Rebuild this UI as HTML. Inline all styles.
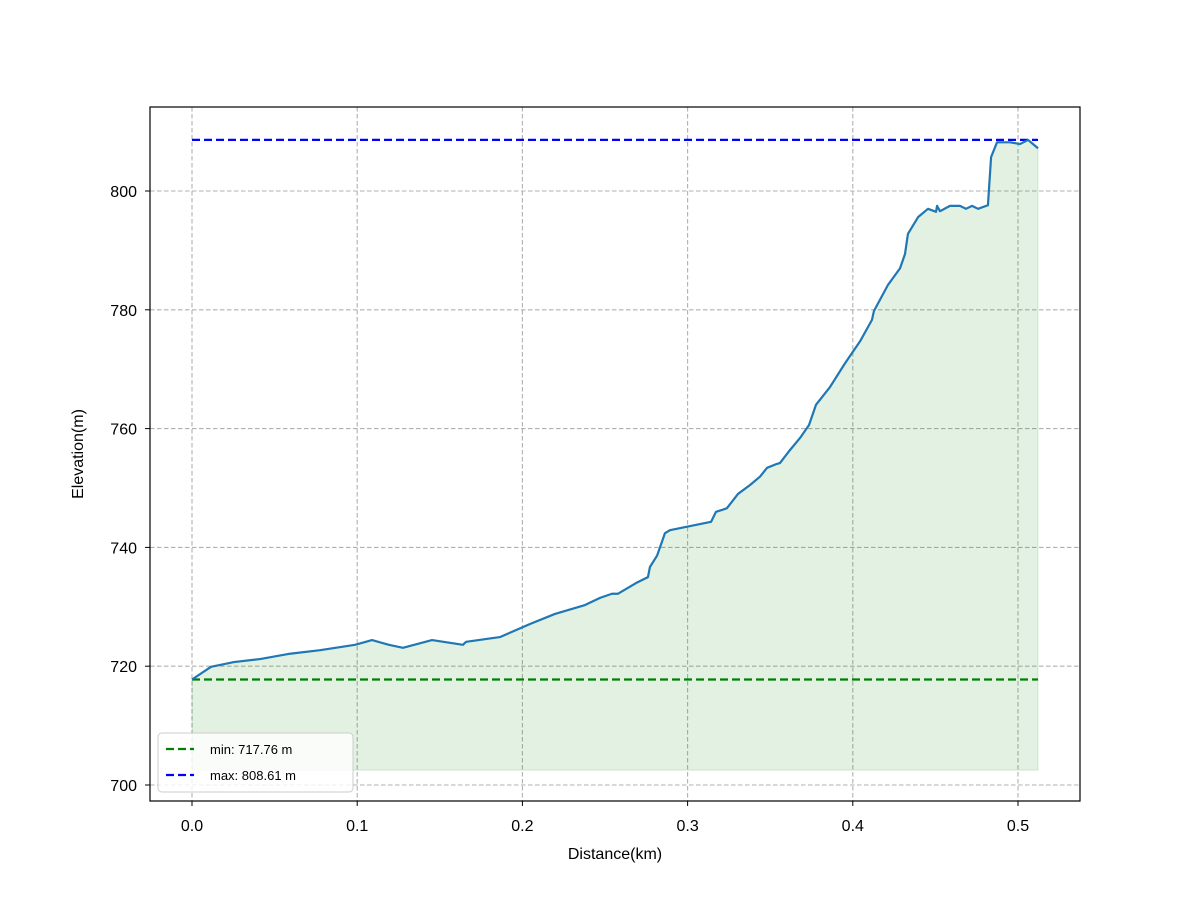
<!DOCTYPE html>
<html><head><meta charset="utf-8"><style>body{margin:0;background:#fff}svg{font-family:"Liberation Sans","DejaVu Sans",sans-serif}</style></head>
<body>
<svg id="chart" width="1200" height="900" xmlns="http://www.w3.org/2000/svg"></svg>
<script>
const distances=[0,.0115,.0254,.0412,.0593,.0775,.0987,.109,.1192,.1277,.1453,.164,.1659,.1864,.2046,.2197,.2379,.247,.2542,.2579,.2688,.276,.2772,.2815,.2863,.2893,.3142,.3172,.3208,.3238,.3305,.3378,.3438,.3481,.3535,.3559,.362,.368,.3735,.3777,.3862,.3953,.4044,.4116,.4128,.4213,.4286,.4316,.4334,.4395,.4455,.4504,.451,.4528,.4588,.4649,.4685,.4722,.4758,.4818,.4837,.4873,.4952,.5012,.5061,.5121];
const elevations=[717.76,719.9,720.7,721.2,722.1,722.7,723.6,724.4,723.6,723.1,724.4,723.6,724.1,724.9,727.1,728.8,730.3,731.5,732.2,732.2,734.0,735.0,736.7,738.6,742.4,742.9,744.3,746.0,746.3,746.6,749.0,750.5,751.9,753.4,754.0,754.2,756.4,758.4,760.6,764.0,767.0,771.0,774.7,778.3,779.8,784.2,787.0,789.4,792.8,795.6,797.0,796.5,797.5,796.6,797.5,797.5,797.0,797.5,797.0,797.6,805.7,808.2,808.2,807.9,808.6,807.2];
const minElev=717.76, maxElev=808.61, fillBase=702.5;
const xTicks=[0,0.1,0.2,0.3,0.4,0.5];
const yTicks=[700,720,740,760,780,800];
const xTickLabels=["0.0","0.1","0.2","0.3","0.4","0.5"];
const yTickLabels=["700","720","740","760","780","800"];
const L=150,R=1080,T=107,B=801;
const X=v=>192+v*1652, Y=v=>191+(800-v)*5.94;
const svg=document.getElementById('chart');const NS='http://www.w3.org/2000/svg';
function el(tag,attrs,parent){const e=document.createElementNS(NS,tag);for(const k in attrs)e.setAttribute(k,attrs[k]);(parent||svg).appendChild(e);return e;}
xTicks.forEach((t,i)=>{
 const g=el('line',{x1:X(t),x2:X(t),y1:T,y2:B,stroke:'#b0b0b0','stroke-width':1.1,'stroke-dasharray':'4.5,2.5'});
 
 
 el('line',{x1:X(t),x2:X(t),y1:B,y2:B+5,stroke:'#000','stroke-width':1});
 const tx=el('text',{x:X(t),y:B+30,'text-anchor':'middle','font-size':16});tx.textContent=xTickLabels[i];
 
 
});
yTicks.forEach((t,i)=>{
 const g=el('line',{x1:L,x2:R,y1:Y(t),y2:Y(t),stroke:'#b0b0b0','stroke-width':1.1,'stroke-dasharray':'4.5,2.5'});
 
 
 el('line',{x1:L-5,x2:L,y1:Y(t),y2:Y(t),stroke:'#000','stroke-width':1});
 const tx=el('text',{x:L-13,y:Y(t)+6,'text-anchor':'end','font-size':16});tx.textContent=yTickLabels[i];
 
 
});
let d='M'+X(distances[0])+','+Y(fillBase);
distances.forEach((x,i)=>d+=' L'+X(x)+','+Y(elevations[i]));
d+=' L'+X(distances[distances.length-1])+','+Y(fillBase)+'Z';
const f=el('path',{d:d,fill:'rgba(0,128,0,0.11)',stroke:'rgba(0,128,0,0.15)'});


const xe=distances[distances.length-1];
const mn=el('line',{x1:X(0),x2:X(xe),y1:Y(minElev),y2:Y(minElev),stroke:'#008000','stroke-width':2.2,'stroke-dasharray':'8,4'});


const mx=el('line',{x1:X(0),x2:X(xe),y1:Y(maxElev),y2:Y(maxElev),stroke:'#0000ff','stroke-width':2.2,'stroke-dasharray':'8,4'});


const ln=el('polyline',{points:distances.map((x,i)=>X(x)+','+Y(elevations[i])).join(' '),fill:'none',stroke:'#1f77b4','stroke-width':2.2,'stroke-linejoin':'round'});


el('rect',{x:L,y:T,width:R-L,height:B-T,fill:'none',stroke:'#000','stroke-width':1.2});
</script>
<svg style="position:absolute;left:0;top:0" width="1200" height="900">
<text x="615" y="859" text-anchor="middle" font-size="16">Distance(km)</text>
<text transform="translate(83,454) rotate(-90)" text-anchor="middle" font-size="16">Elevation(m)</text>
<g>
<rect x="158" y="733" width="195" height="59" rx="4" fill="#fff" fill-opacity="0.8" stroke="#ccc"/>
<line x1="166" x2="194" y1="749" y2="749" stroke="#008000" stroke-width="2.2" stroke-dasharray="8,4"/>
<text x="210" y="754" font-size="13">min: 717.76 m</text>
<line x1="166" x2="194" y1="775" y2="775" stroke="#0000ff" stroke-width="2.2" stroke-dasharray="8,4"/>
<text x="210" y="780" font-size="13">max: 808.61 m</text>
</g>
</svg>
</body></html>
